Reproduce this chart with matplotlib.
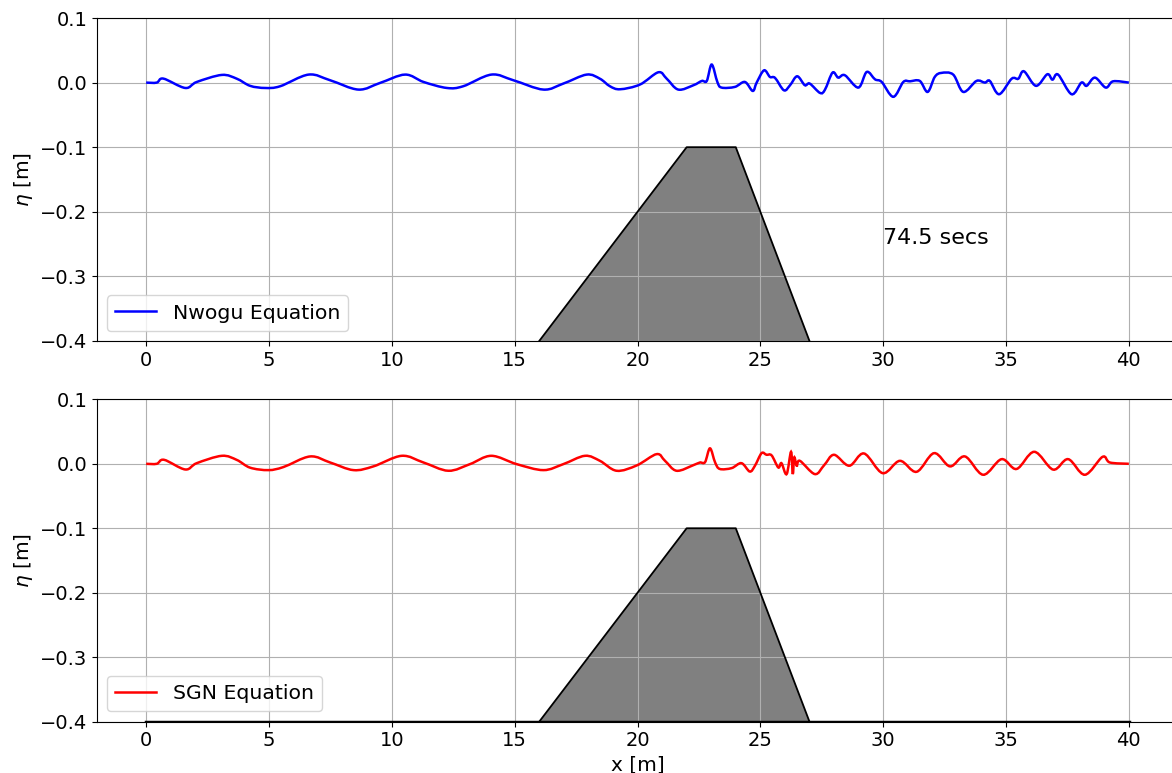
import matplotlib.pyplot as plt
import numpy as np
from matplotlib.path import Path
from matplotlib.patches import PathPatch

# free surface, t = 74.5 s
x_nw = [0.0, 0.43, 0.70, 1.59, 2.06, 3.08, 3.69, 4.23, 4.84, 5.45, 6.61, 7.49, 8.64, 9.52,
        10.54, 11.29, 12.24, 12.90, 14.05, 14.95, 16.17, 16.98, 17.93, 18.47, 18.88, 19.29,
        20.10, 20.85, 21.19, 21.66, 22.28, 22.62, 22.82, 23.02, 23.25, 23.42, 23.96, 24.37,
        24.69, 24.85, 25.15, 25.39, 25.60, 25.96, 26.21, 26.50, 26.81, 27.01, 27.43, 27.63,
        27.94, 28.17, 28.44, 28.99, 29.33, 29.67, 29.94, 30.41, 30.82, 31.09, 31.49, 31.81,
        32.10, 32.37, 32.85, 33.26, 33.80, 34.14, 34.34, 34.72, 35.23, 35.50, 35.73, 36.22,
        36.68, 36.89, 37.12, 37.67, 38.07, 38.28, 38.62, 39.06, 39.36, 40.0]
eta_nw = [0.0, 0.0, 0.0062, -0.0083, 0.001, 0.0119, 0.006, -0.005, -0.0083, -0.0057, 0.0124,
          0.0036, -0.0108, -0.0005, 0.0124, 0.001, -0.0083, -0.0057, 0.0124, 0.0036, -0.0108,
          -0.0015, 0.0124, 0.006, -0.0057, -0.0103, -0.003, 0.016, 0.006, -0.0108, -0.004,
          0.0026, 0.0026, 0.028, 0.001, -0.0077, -0.0067, 0.001, -0.0129, 0.0, 0.019, 0.0088,
          0.0072, -0.0119, -0.004, 0.0098, -0.004, -0.0015, -0.016, -0.011, 0.0155, 0.0077,
          0.0114, -0.0077, 0.0165, 0.005, 0.001, -0.022, 0.001, 0.002, 0.0026, -0.0144, 0.0088,
          0.015, 0.0124, -0.0144, 0.0026, 0.0, 0.0026, -0.018, 0.006, 0.006, 0.0175, -0.005,
          0.0129, 0.0046, 0.0124, -0.018, 0.0, -0.005, 0.0077, -0.0077, 0.002, 0.0]

x_sgn = [0.0, 0.43, 0.73, 1.59, 2.06, 3.08, 3.69, 4.23, 4.98, 5.59, 6.67, 7.49, 8.44, 9.25,
         10.40, 11.29, 12.30, 13.18, 14.05, 15.08, 16.17, 16.98, 17.86, 18.47, 19.15, 19.97,
         20.78, 21.12, 21.59, 22.28, 22.54, 22.75, 22.95, 23.16, 23.35, 23.83, 24.23, 24.57,
         24.78, 25.05, 25.25, 25.46, 25.73, 25.86, 26.07, 26.25, 26.32, 26.38, 26.48, 26.61,
         27.22, 27.60, 28.00, 28.62, 29.22, 29.98, 30.68, 31.36, 32.07, 32.72, 33.33, 34.07,
         34.82, 35.43, 36.15, 36.92, 37.53, 38.21, 38.93, 39.23, 40.0]
eta_sgn = [0.0, 0.0, 0.0062, -0.0088, 0.001, 0.0124, 0.006, -0.006, -0.0098, -0.005, 0.0114,
           0.002, -0.0098, -0.004, 0.0124, 0.002, -0.0108, -0.0005, 0.0124, -0.0005, -0.0098,
           -0.0005, 0.0124, 0.0046, -0.0108, -0.0025, 0.015, 0.0046, -0.0108, -0.002, 0.002,
           0.0026, 0.024, 0.002, -0.008, -0.0067, 0.001, -0.012, -0.003, 0.0165, 0.014, 0.013,
           -0.0057, 0.001, -0.016, 0.0186, -0.016, 0.01, -0.003, 0.0046, -0.016, -0.002, 0.014,
           -0.003, 0.016, -0.0145, 0.0046, -0.0124, 0.0165, -0.004, 0.0114, -0.017, 0.0072,
           -0.008, 0.0186, -0.009, 0.0072, -0.017, 0.0108, 0.002, 0.0]

# submerged trapezoidal bar
bed_x = [0, 16, 22, 24, 27, 40]
bed_z = [-0.4, -0.4, -0.1, -0.1, -0.4, -0.4]


def smooth_path(x, y):
    # Catmull-Rom through the read points, drawn as cubic Bezier segments
    p = np.column_stack([x, y])
    verts = [p[0]]
    codes = [Path.MOVETO]
    for i in range(len(p) - 1):
        p0 = p[max(i - 1, 0)]
        p1, p2 = p[i], p[i + 1]
        p3 = p[min(i + 2, len(p) - 1)]
        c1 = p1 + (p2 - p0) / 6
        c2 = p2 - (p3 - p1) / 6
        verts += [c1, c2, p2]
        codes += [Path.CURVE4] * 3
    return Path(verts, codes)


fig = plt.figure(figsize=(11.72, 7.73), dpi=100)
ax1 = fig.add_axes([0.0828, 0.5589, 0.9223, 0.4178])
ax2 = fig.add_axes([0.0828, 0.0664, 0.9223, 0.4170])

for ax, x, eta, col, lab in [(ax1, x_nw, eta_nw, "blue", "Nwogu Equation"),
                             (ax2, x_sgn, eta_sgn, "red", "SGN Equation")]:
    ax.add_patch(PathPatch(smooth_path(x, eta), facecolor="none", edgecolor=col, lw=1.8, zorder=3))
    ax.plot([], [], color=col, lw=1.8, label=lab)
    ax.fill_between(bed_x, bed_z, -0.4, facecolor="gray", edgecolor="none")
    ax.plot(bed_x[1:5], bed_z[1:5], color="black", lw=1.3)
    ax.set_xlim(-2, 42)
    ax.set_ylim(-0.4, 0.1)
    ax.set_yticks([0.1, 0.0, -0.1, -0.2, -0.3, -0.4])
    ax.set_xticks(range(0, 41, 5))
    ax.grid(True)
    ax.tick_params(labelsize=14)
    ax.set_ylabel(r"$\eta$ [m]", fontsize=14.5)
    ax.legend(loc="lower left", fontsize=14.7)

ax2.plot([bed_x[0], bed_x[-1]], [bed_z[0], bed_z[-1]], color="black", lw=2.5)
ax2.set_xlabel("x [m]", fontsize=14.5)
ax1.text(30, -0.25, "74.5 secs", fontsize=16)

plt.savefig("out.png", dpi=100)
